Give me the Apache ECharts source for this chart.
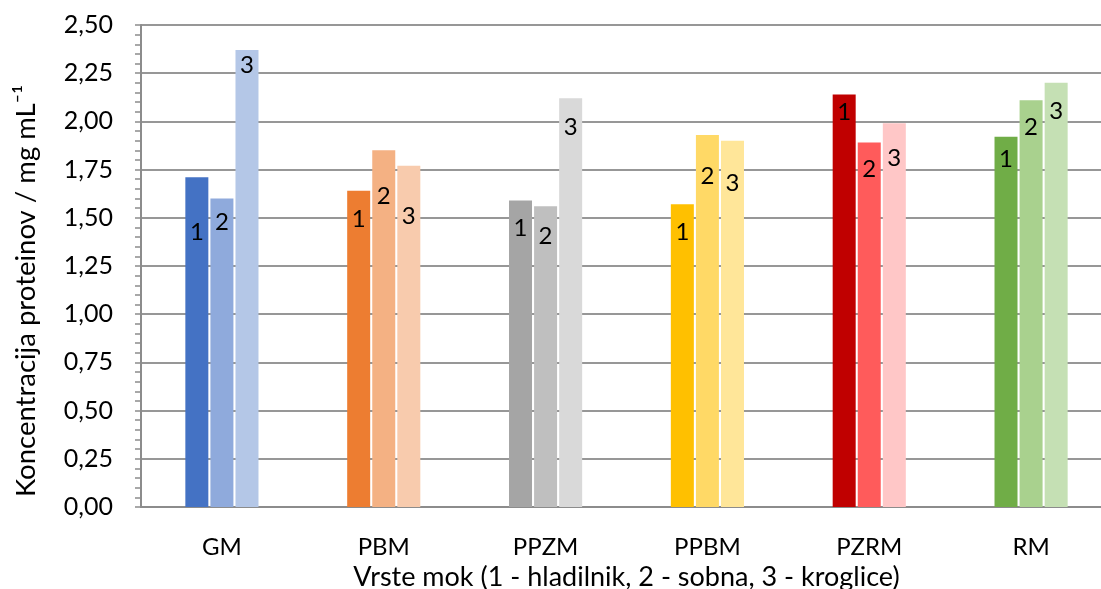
<!DOCTYPE html>
<html>
<head>
<meta charset="utf-8">
<script src="https://cdn.jsdelivr.net/npm/echarts@6/dist/echarts.min.js"></script>
<style>
  html, body { margin: 0; padding: 0; background: #fff; }
  #chart { width: 1101px; height: 589px; }
</style>
</head>
<body>
<div id="chart"></div>
<script>
// Vrste mok and measured protein concentration (mg/mL) for the three storage conditions
const categories = ['GM', 'PBM', 'PPZM', 'PPBM', 'PZRM', 'RM'];
const hladilnik = [1.71, 1.64, 1.59, 1.57, 2.14, 1.92];   // 1 - hladilnik
const sobna     = [1.60, 1.85, 1.56, 1.93, 1.89, 2.11];   // 2 - sobna
const kroglice  = [2.37, 1.77, 2.12, 1.90, 1.99, 2.20];   // 3 - kroglice
const seriesNames = ['1', '2', '3'];
const yTicks = { min: 0, max: 2.5, interval: 0.25 };

// per-flour colour shades (dark, medium, light)
const palette = [
  ['#4472C4', '#8FAADC', '#B4C7E7'],
  ['#ED7D31', '#F4B183', '#F8CBAD'],
  ['#A5A5A5', '#BFBFBF', '#D9D9D9'],
  ['#FFC000', '#FFD966', '#FFE699'],
  ['#C00000', '#FF5B5B', '#FFC7C7'],
  ['#70AD47', '#A9D18E', '#C5E0B4']
];
// how far each number label sits below the top of its bar (px)
const labelDrop = [
  [43, 12, 3],
  [16, 34, 39],
  [16, 18, 17],
  [16, 29, 31],
  [6, 15, 23],
  [10, 15, 16]
];

const FONT = 'Lato';
const all = [hladilnik, sobna, kroglice];

const series = all.map((vals, s) => ({
  name: seriesNames[s],
  type: 'bar',
  barWidth: 23,
  barGap: '9%',
  data: vals.map((v, c) => ({
    value: v,
    itemStyle: { color: palette[c][s] },
    label: { distance: labelDrop[c][s] }
  })),
  label: {
    show: true,
    position: 'insideTop',
    formatter: seriesNames[s],
    color: '#000',
    fontFamily: FONT,
    fontSize: 24
  },
  emphasis: { disabled: true }
}));

const chart = echarts.init(document.getElementById('chart'), null, { renderer: 'canvas' });
chart.setOption({
  animation: false,
  backgroundColor: '#fff',
  grid: {
    left: 141, right: -11, top: 25, bottom: 82,
    containLabel: false,
    outerBoundsMode: 'none'
  },
  xAxis: {
    type: 'category',
    data: categories,
    axisLine: { lineStyle: { color: '#8C8C8C', width: 2 } },
    axisTick: { show: false },
    axisLabel: { color: '#000', fontFamily: FONT, fontSize: 24, margin: 28 },
    name: 'Vrste mok (1 - hladilnik, 2 - sobna, 3 - kroglice)',
    nameLocation: 'middle',
    nameGap: 55,
    nameTextStyle: { color: '#000', fontFamily: FONT, fontSize: 27 }
  },
  yAxis: {
    type: 'value',
    min: yTicks.min,
    max: yTicks.max,
    interval: yTicks.interval,
    axisLine: { show: true, lineStyle: { color: '#8C8C8C', width: 2 } },
    axisTick: { show: true, length: 6, lineStyle: { color: '#8C8C8C', width: 1.5 } },
    minorTick: { show: true, splitNumber: 5, length: 6, lineStyle: { color: '#8C8C8C', width: 1.5 } },
    splitLine: { show: true, lineStyle: { color: '#979797', width: 2 } },
    axisLabel: {
      color: '#000', fontFamily: FONT, fontSize: 25, margin: 28,
      formatter: v => v.toFixed(2).replace('.', ',')
    },
    name: 'Koncentracija proteinov / mg mL\u207B\u00B9',
    nameLocation: 'middle',
    nameGap: 101,
    nameTextStyle: { color: '#000', fontFamily: FONT, fontSize: 27.5, padding: [0, 50, 0, 0] }
  },
  series: series
});
</script>
</body>
</html>
